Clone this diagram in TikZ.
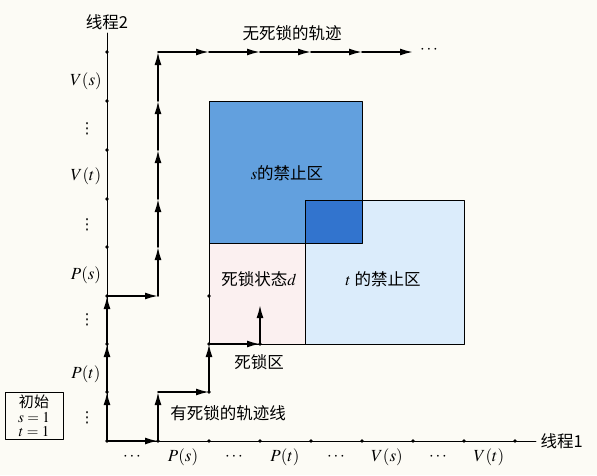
\documentclass[tikz,border=0pt]{standalone}
\usepackage{mathptmx}
\usepackage{fontspec}
\newfontfamily\cjk{Noto Sans CJK SC}
\newfontfamily\kyhieu{DejaVu Sans}
\usetikzlibrary{arrows.meta,positioning}
\definecolor{nen}{RGB}{252,251,245}
\definecolor{xanhs}{RGB}{98,160,222}
\definecolor{xanht}{RGB}{219,236,251}
\definecolor{xanhdam}{RGB}{50,116,206}
\definecolor{hong}{RGB}{251,240,240}
\tikzset{
	quydao/.style={line width=1.7pt, ->},
	nhan/.style={font=\cjk\fontsize{16.5}{18}\selectfont},
	truc/.style={inner sep=0.5pt},
	cham/.style={inner sep=0.5pt, font=\kyhieu\fontsize{15}{16}\selectfont}
}
\begin{document}
\begin{tikzpicture}[x=1pt, y=-1pt, font=\fontsize{17}{19}\selectfont, line join=round, line cap=round, >={Latex[length=13pt,width=7pt]}]
	% Nền
	\fill[nen] (0,0) rectangle (597,475);
	% Gốc O
	\coordinate (O) at (107,441);
	% Các điểm trên trục luồng 1
	\coordinate (X1) at (158,441);
	\coordinate (X2) at (209,441);
	\coordinate (X3) at (260,441);
	\coordinate (X4) at (311,441);
	\coordinate (X5) at (362,441);
	\coordinate (X6) at (413,441);
	\coordinate (X7) at (464,441);
	\coordinate (X8) at (515,441);
	\coordinate (Xend) at (536,441);
	% Các điểm trên trục luồng 2
	\coordinate (Y1) at (107,392);
	\coordinate (Y2) at (107,344);
	\coordinate (Y3) at (107,296);
	\coordinate (Y4) at (107,247);
	\coordinate (Y5) at (107,199);
	\coordinate (Y6) at (107,150);
	\coordinate (Y7) at (107,101);
	\coordinate (Y8) at (107,52);
	\coordinate (Yend) at (107,33);
	% Góc các vùng cấm
	\coordinate (S1) at (209,101);
	\coordinate (S2) at (362,243);
	\coordinate (T1) at (305,200);
	\coordinate (T2) at (464,344);
	\coordinate (D1) at (209,243);
	\coordinate (D2) at (305,344);
	\coordinate (d) at (260,305);
	% Vùng deadlock, vùng cấm s, vùng cấm t
	\fill[hong] (D1) rectangle (D2);
	\fill[xanhs] (S1) rectangle (S2);
	\fill[xanht] (T1) rectangle (T2);
	\fill[xanhdam] (T1) rectangle (S2);
	\draw[line width=0.6pt] (D1) rectangle (D2);
	\draw[line width=0.6pt] (S1) rectangle (S2);
	\draw[line width=0.6pt] (T1) rectangle (T2);
	% Hai trục
	\draw[line width=0.7pt] (O) -- (Xend);
	\draw[line width=0.7pt] (O) -- (Yend);
	\node[nhan, right=1pt] (tr1) at (Xend) {线程1};
	\node[nhan, above=0pt] (tr2) at (Yend) {线程2};
	\foreach \p in {O,X1,X2,X3,X4,X5,X6,X7,X8,Y1,Y2,Y3,Y4,Y5,Y6,Y7,Y8}
		\fill (\p) circle (1.8);
	% Nhãn trục luồng 1
	\node[truc] (h1) at (132,457) {$\cdots$};
	\node[truc] (h2) at (183,457) {$P(s)$};
	\node[truc] (h3) at (234,457) {$\cdots$};
	\node[truc] (h4) at (285,457) {$P(t)$};
	\node[truc] (h5) at (336,457) {$\cdots$};
	\node[truc] (h6) at (387,457) {$V(s)$};
	\node[truc] (h7) at (438,457) {$\cdots$};
	\node[truc] (h8) at (489,457) {$V(t)$};
	% Nhãn trục luồng 2
	\node[truc] (v1) at (86,81) {$V(s)$};
	\node[cham] (v2) at (87,129) {⋮};
	\node[truc] (v3) at (86,176) {$V(t)$};
	\node[cham] (v4) at (87,225) {⋮};
	\node[truc] (v5) at (86,275) {$P(s)$};
	\node[cham] (v6) at (87,320) {⋮};
	\node[truc] (v7) at (86,374) {$P(t)$};
	\node[cham] (v8) at (87,418) {⋮};
	% Quỹ đạo có deadlock
	\draw[quydao] (O) -- (X1);
	\draw[quydao] (X1) -- (X1|-Y1);
	\draw[quydao] (X1|-Y1) -- (X2|-Y1);
	\draw[quydao] (X2|-Y1) -- (X2|-Y2);
	\draw[quydao] (X2|-Y2) -- (X3|-Y2);
	\draw[quydao] (X3|-Y2) -- (d);
	\foreach \p in {X2|-Y1,X2|-Y2,X2|-Y3,X3|-Y2}
		\fill (\p) circle (1.8);
	% Quỹ đạo không deadlock
	\draw[quydao] (O) -- (Y1);
	\draw[quydao] (Y1) -- (Y2);
	\draw[quydao] (Y2) -- (Y3);
	\draw[quydao] (Y3) -- (X1|-Y3);
	\draw[quydao] (X1|-Y3) -- (X1|-Y4);
	\draw[quydao] (X1|-Y4) -- (X1|-Y5);
	\draw[quydao] (X1|-Y5) -- (X1|-Y6);
	\draw[quydao] (X1|-Y6) -- (X1|-Y7);
	\draw[quydao] (X1|-Y7) -- (X1|-Y8);
	\draw[quydao] (X1|-Y8) -- (X2|-Y8);
	\draw[quydao] (X2|-Y8) -- (X3|-Y8);
	\draw[quydao] (X3|-Y8) -- (X4|-Y8);
	\draw[quydao] (X4|-Y8) -- (X5|-Y8);
	\draw[quydao] (X5|-Y8) -- (X6|-Y8);
	\node[truc] (tiep) at (429,50) {$\cdots$};
	% Các nhãn
	\node[nhan] (khongdl) at (292,33) {无死锁的轨迹};
	\node[nhan] (cams) at (287,173) {$s$的禁止区};
	\node[nhan] (camt) at (383,279) {$t$ 的禁止区};
	\node[nhan] (trangthai) at (259,279) {死锁状态$d$};
	\node[nhan] (vungdl) at (259,362) {死锁区};
	\node[nhan] (codl) at (228,413) {有死锁的轨迹线};
	\node[draw, line width=0.6pt, align=center, inner sep=1pt, minimum width=58pt, minimum height=47pt, font=\fontsize{15}{14.5}\selectfont] (dau) at (34,416) {{\cjk 初始}\\$s=1$\\$t=1$};
\end{tikzpicture}
\end{document}
